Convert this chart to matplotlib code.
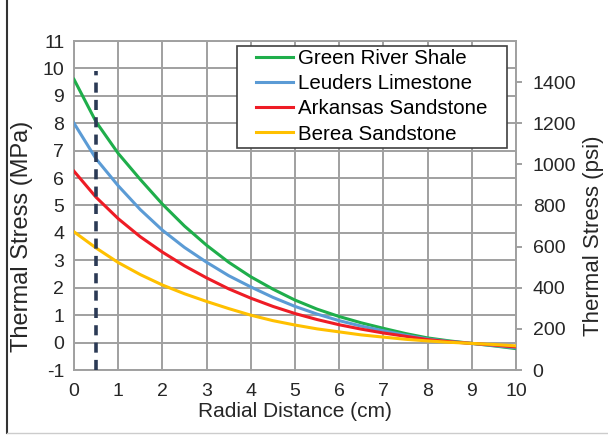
import matplotlib
matplotlib.use("Agg")
import matplotlib.pyplot as plt
from matplotlib.lines import Line2D
from matplotlib.patches import Rectangle

plt.rcParams['font.family'] = ['Liberation Sans', 'DejaVu Sans']
plt.rcParams['axes.unicode_minus'] = False

radial_cm = [0, 0.5, 1, 1.5, 2, 2.5, 3, 3.5, 4, 4.5, 5, 5.5, 6, 6.5, 7, 7.5, 8, 8.5, 9, 9.5, 10]
green_river_shale = [9.6, 8.05, 6.9, 5.95, 5.05, 4.25, 3.55, 2.93, 2.4, 1.95, 1.55, 1.22, 0.95, 0.72, 0.52, 0.33, 0.17, 0.06, -0.03, -0.12, -0.22]
leuders_limestone = [8.0, 6.7, 5.72, 4.85, 4.1, 3.47, 2.93, 2.44, 2.03, 1.65, 1.32, 1.04, 0.8, 0.6, 0.43, 0.27, 0.13, 0.04, -0.03, -0.11, -0.19]
arkansas_sandstone = [6.25, 5.3, 4.52, 3.86, 3.3, 2.8, 2.36, 1.96, 1.62, 1.32, 1.06, 0.84, 0.65, 0.49, 0.35, 0.23, 0.11, 0.03, -0.03, -0.09, -0.16]
berea_sandstone = [4.04, 3.45, 2.92, 2.48, 2.1, 1.78, 1.5, 1.24, 1.0, 0.8, 0.64, 0.5, 0.39, 0.28, 0.2, 0.12, 0.06, 0.01, -0.03, -0.07, -0.12]

series_names = ["Green River Shale", "Leuders Limestone", "Arkansas Sandstone", "Berea Sandstone"]
series_colors = ["#1fae4b", "#5b9bd5", "#ee1c25", "#ffc000"]

marker_x = 0.5
marker_y = [-1, 9.9]

x_ticks = list(range(0, 11))
mpa_ticks = list(range(-1, 12))
psi_ticks = [0, 200, 400, 600, 800, 1000, 1200, 1400]

W, H = 608, 436
fig = plt.figure(figsize=(W/100, H/100), dpi=100)
ax = fig.add_axes([74/W, 1-370/H, (516-74)/W, (370-41)/H])

grid_c = "#a0a0a0"
txt_c = "#262626"
handles = []
for s, c, n in zip([green_river_shale, leuders_limestone, arkansas_sandstone, berea_sandstone], series_colors, series_names):
    h, = ax.plot(radial_cm, s, color=c, lw=2.2, label=n, zorder=3, solid_joinstyle='round')
    handles.append(h)

ax.plot([marker_x, marker_x], marker_y, color="#2b3a55", lw=2.6, ls=(0, (2.8, 2.0)), zorder=4)

ax.set_xlim(0, 10)
ax.set_ylim(-1, 11)
ax.set_xticks(x_ticks)
ax.set_yticks(mpa_ticks)
ax.grid(True, color=grid_c, lw=1.4)
ax.set_axisbelow(True)
ax.tick_params(axis='both', length=0, labelsize=14, colors=txt_c)
ax.tick_params(axis='x', pad=9)
ax.tick_params(axis='y', pad=7)
for sp in ax.spines.values():
    sp.set_color(grid_c)
    sp.set_linewidth(1.4)
ax.set_xlabel("Radial Distance (cm)", fontsize=15, color=txt_c, labelpad=2)
ax.set_ylabel("Thermal Stress (MPa)", fontsize=17, color=txt_c)
ax.yaxis.set_label_coords((33-74)/442, (370-236)/329)

ax2 = ax.twinx()
ax2.set_ylim(0, 1600)
ax2.set_yticks(psi_ticks)
ax2.tick_params(axis='y', length=4, width=1.4, color=grid_c, labelsize=14, labelcolor=txt_c, pad=8)
for sp in ax2.spines.values():
    sp.set_visible(False)
ax2.set_ylabel("Thermal Stress (psi)", fontsize=16, color=txt_c)
ax2.yaxis.set_label_coords((583-74)/442, (370-236)/329)

frame = Rectangle((237/W, 1-148/H), (507-237)/W, (148-46)/H, transform=fig.transFigure,
                  facecolor="white", edgecolor="#404040", lw=1.2, zorder=4)
fig.add_artist(frame)
leg = fig.legend(handles, series_names, loc="upper left", bbox_to_anchor=(256/W, 1-49/H),
                 bbox_transform=fig.transFigure, fontsize=14.8, frameon=False,
                 handlelength=1.8, handletextpad=0.25, borderpad=0, borderaxespad=0,
                 labelspacing=0.3)
leg.set_zorder(5)

fig.add_artist(Line2D([7/W, 7/W], [1-433/H, 1], transform=fig.transFigure, color="#333333", lw=1.5))
fig.add_artist(Line2D([7/W, 1], [1-433/H, 1-433/H], transform=fig.transFigure, color="#cccccc", lw=1.0))

fig.savefig("out.png", dpi=100)
